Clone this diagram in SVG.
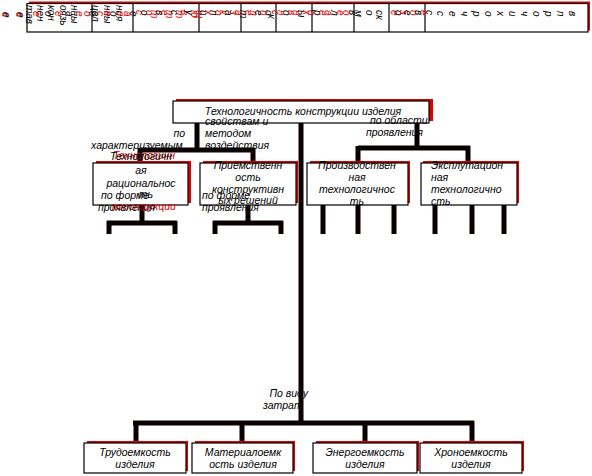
<svg xmlns="http://www.w3.org/2000/svg" width="592" height="476" viewBox="0 0 592 476">
<defs>
<style>
.t{font-family:"Liberation Sans",Arial,sans-serif;font-style:italic;font-size:10.5px;fill:#000}
.tr{font-family:"Liberation Sans",Arial,sans-serif;font-style:italic;font-size:10.5px;fill:#e00000}
.c{text-anchor:middle}
.v{font-family:"Liberation Sans",Arial,sans-serif;font-style:italic;font-size:10px;fill:#000}
.vr{font-family:"Liberation Sans",Arial,sans-serif;font-style:italic;font-size:10px;fill:#e00000}
.box{fill:#fff;stroke:#000;stroke-width:1.2}
.sh{fill:#e00000}
.ln{stroke:#0a0000;stroke-width:5;fill:none;stroke-linecap:butt}
.tl{stroke:#000;stroke-width:1.2}
</style>
</defs>
<rect width="592" height="476" fill="#fff"/>

<g id="table">
<rect x="29" y="1.5" width="561" height="29" class="sh"/>
<rect x="27" y="3.5" width="561" height="28.5" class="box"/>
<line x1="92" y1="3.5" x2="92" y2="32" class="tl"/>
<line x1="133" y1="3.5" x2="133" y2="32" class="tl"/>
<line x1="199" y1="3.5" x2="199" y2="32" class="tl"/>
<line x1="241" y1="3.5" x2="241" y2="32" class="tl"/>
<line x1="276" y1="3.5" x2="276" y2="32" class="tl"/>
<line x1="312" y1="3.5" x2="312" y2="32" class="tl"/>
<line x1="354" y1="3.5" x2="354" y2="32" class="tl"/>
<line x1="389" y1="3.5" x2="389" y2="32" class="tl"/>
<line x1="425" y1="3.5" x2="425" y2="32" class="tl"/>
<text class="v" transform="translate(26,5) rotate(90)">тав</text>
<text class="v" transform="translate(37,5) rotate(90)">нен</text>
<text class="v" transform="translate(48,5) rotate(90)">кон</text>
<text class="v" transform="translate(60,5) rotate(90)">оязь</text>
<text class="v" transform="translate(71,5) rotate(90)">нны</text>
<text class="v" transform="translate(92,5) rotate(90)">цел</text>
<text class="v" transform="translate(104,5) rotate(90)">нны</text>
<text class="v" transform="translate(116,5) rotate(90)">ния</text>
<text class="vr" transform="translate(2,12) rotate(90)">е</text>
<text class="v" transform="translate(3,12) rotate(90)">е</text>
<text class="vr" transform="translate(16,12) rotate(90)">е</text>
<text class="v" transform="translate(17,12) rotate(90)">е</text>
<g>
<text class="vr" transform="translate(33,11) rotate(90)">е</text>
<text class="v" transform="translate(45,11) rotate(90)">о</text>
<text class="vr" transform="translate(55,11) rotate(90)">е</text>
<text class="v" transform="translate(66,11) rotate(90)">а</text>
<text class="vr" transform="translate(76,11) rotate(90)">е</text>
<text class="vr" transform="translate(84,11) rotate(90)">о</text>
<text class="v" transform="translate(89,11) rotate(90)">е</text>
<text class="vr" transform="translate(97,11) rotate(90)">с</text>
<text class="vr" transform="translate(104,11) rotate(90)">е</text>
<text class="v" transform="translate(110,11) rotate(90)">о</text>
<text class="vr" transform="translate(117,11) rotate(90)">е</text>
<text class="vr" transform="translate(124,11) rotate(90)">а</text>
<text class="v" transform="translate(130,11) rotate(90)">е</text>
</g>
<g>
<text class="vr" transform="translate(136,10) rotate(90)">с</text>
<text class="v" transform="translate(141,10) rotate(90)">о</text>
<text class="vr" transform="translate(146,10) rotate(90)">о</text>
<text class="vr" transform="translate(151,10) rotate(90)">т</text>
<text class="v" transform="translate(156,10) rotate(90)">в</text>
<text class="vr" transform="translate(161,10) rotate(90)">е</text>
<text class="vr" transform="translate(166,10) rotate(90)">т</text>
<text class="v" transform="translate(171,10) rotate(90)">с</text>
<text class="vr" transform="translate(176,10) rotate(90)">т</text>
<text class="vr" transform="translate(181,10) rotate(90)">в</text>
<text class="v" transform="translate(186,10) rotate(90)">у</text>
<text class="vr" transform="translate(191,10) rotate(90)">ю</text>
<text class="vr" transform="translate(196,10) rotate(90)">щ</text>
<text class="v" transform="translate(200,10) rotate(90)">и</text>
<text class="vr" transform="translate(205,10) rotate(90)">х</text>
<text class="v" transform="translate(210,10) rotate(90)">п</text>
<text class="vr" transform="translate(215,10) rotate(90)">о</text>
<text class="vr" transform="translate(220,10) rotate(90)">к</text>
<text class="v" transform="translate(225,10) rotate(90)">а</text>
<text class="vr" transform="translate(230,10) rotate(90)">з</text>
<text class="vr" transform="translate(235,10) rotate(90)">а</text>
<text class="v" transform="translate(240,10) rotate(90)">т</text>
<text class="vr" transform="translate(245,10) rotate(90)">е</text>
<text class="vr" transform="translate(250,10) rotate(90)">л</text>
<text class="v" transform="translate(255,10) rotate(90)">е</text>
<text class="vr" transform="translate(260,10) rotate(90)">й</text>
<text class="v" transform="translate(265,10) rotate(90)">о</text>
<text class="v" transform="translate(268,14) rotate(90)">к</text>
<text class="vr" transform="translate(272,10) rotate(90)">с</text>
<text class="vr" transform="translate(278,10) rotate(90)">н</text>
<text class="v" transform="translate(283,10) rotate(90)">о</text>
<text class="vr" transform="translate(288,10) rotate(90)">в</text>
<text class="vr" transform="translate(293,10) rotate(90)">н</text>
<text class="v" transform="translate(298,10) rotate(90)">ы</text>
<text class="vr" transform="translate(303,10) rotate(90)">х</text>
<text class="vr" transform="translate(308,10) rotate(90)">о</text>
<text class="v" transform="translate(314,10) rotate(90)">р</text>
<text class="vr" transform="translate(319,10) rotate(90)">е</text>
<text class="vr" transform="translate(325,10) rotate(90)">а</text>
<text class="v" transform="translate(331,10) rotate(90)">л</text>
<text class="vr" transform="translate(337,10) rotate(90)">е</text>
<text class="vr" transform="translate(343,10) rotate(90)">о</text>
<text class="v" transform="translate(349,10) rotate(90)">в</text>
<text class="v" transform="translate(355,10) rotate(90)">м</text>
<text class="v" transform="translate(366,10) rotate(90)">о</text>
<text class="v" transform="translate(376,10) rotate(90)">ск</text>
<text class="vr" transform="translate(391,10) rotate(90)">е</text>
<text class="v" transform="translate(395,10) rotate(90)">о</text>
<text class="vr" transform="translate(400,10) rotate(90)">з</text>
<text class="v" transform="translate(404,10) rotate(90)">е</text>
<text class="vr" transform="translate(410,10) rotate(90)">о</text>
<text class="v" transform="translate(415,10) rotate(90)">в</text>
<text class="vr" transform="translate(420,10) rotate(90)">е</text>
<text class="v" transform="translate(426,10) rotate(90)">с</text>
</g>
<g>
<text class="v" transform="translate(569,11) rotate(90)">в</text>
<text class="v" transform="translate(557,11) rotate(90)">п</text>
<text class="v" transform="translate(545,11) rotate(90)">р</text>
<text class="v" transform="translate(533,11) rotate(90)">о</text>
<text class="v" transform="translate(521,11) rotate(90)">ч</text>
<text class="v" transform="translate(509,11) rotate(90)">и</text>
<text class="v" transform="translate(497,11) rotate(90)">х</text>
<text class="v" transform="translate(485,11) rotate(90)">о</text>
<text class="v" transform="translate(473,11) rotate(90)">р</text>
<text class="v" transform="translate(461,11) rotate(90)">ч</text>
<text class="v" transform="translate(449,11) rotate(90)">е</text>
<text class="v" transform="translate(437,11) rotate(90)">с</text>
</g>
</g>

<g id="connectors">
<path class="ln" d="M197,123 V150 M140,150 H255 M140,148 V163 M253,148 V163"/>
<path class="ln" d="M417,123 V148 M358,148 H470 M358,146 V163 M468,146 V163"/>
<path class="ln" d="M301,123 V423"/>
<path class="ln" d="M142,205 V223 M107,223 H177 M109,221 V234 M175,221 V234"/>
<path class="ln" d="M248,205 V223 M213,223 H283 M215,221 V234 M281,221 V234"/>
<path class="ln" d="M323,205 V234 M358,205 V234 M394,205 V234"/>
<path class="ln" d="M435,205 V234 M472,205 V234 M504,205 V234"/>
<path class="ln" d="M133,423 H474 M136,421 V443 M242,421 V443 M365,421 V443 M472,421 V443"/>
</g>

<g id="n_top">
<rect x="176" y="99" width="257" height="22" class="sh"/>
<rect x="173" y="101" width="256" height="22" class="box"/>
<text class="t c" x="303" y="115">Технологичность конструкции изделия</text>
</g>

<g id="n_rat">
<rect x="96" y="161" width="95" height="42" class="sh"/>
<rect x="93" y="163" width="95" height="42" class="box"/>
<text class="tr c" x="144" y="159">Технологичн</text>
<text class="t c" x="141" y="160">Технологичн</text>
<text class="t c" x="141" y="174">ая</text>
<text class="t c" x="141" y="187">рациональнос</text>
<text class="t c" x="146" y="198">ть</text>
<text class="tr c" x="144" y="210">конструкции</text>
</g>

<g id="n_pri">
<rect x="203" y="161" width="95" height="42" class="sh"/>
<rect x="200" y="163" width="96" height="42" class="box"/>
<text class="t c" x="248" y="169">Приемственн</text>
<text class="t c" x="248" y="181">ость</text>
<text class="t c" x="248" y="193">конструктивн</text>
<text class="t c" x="248" y="204">ых решений</text>
</g>

<g id="n_prod">
<rect x="310" y="161" width="100" height="42" class="sh"/>
<rect x="307" y="163" width="101" height="42" class="box"/>
<text class="t c" x="357" y="169">Производствен</text>
<text class="t c" x="357" y="181">ная</text>
<text class="t c" x="357" y="193">технологичнос</text>
<text class="t c" x="357" y="205">ть</text>
</g>

<g id="n_expl">
<rect x="423" y="161" width="96" height="42" class="sh"/>
<rect x="421" y="163" width="96" height="42" class="box"/>
<text class="t" x="431" y="169">Эксплутацион</text>
<text class="t" x="431" y="181">ная</text>
<text class="t" x="431" y="193">технологично</text>
<text class="t" x="431" y="205">сть</text>
</g>

<g id="n_trud">
<rect x="87" y="441" width="101" height="30" class="sh"/>
<rect x="84" y="443" width="102" height="30" class="box"/>
<text class="t c" x="135" y="456">Трудоемкость</text>
<text class="t c" x="135" y="468">изделия</text>
</g>
<g id="n_mat">
<rect x="195" y="441" width="100" height="30" class="sh"/>
<rect x="192" y="443" width="101" height="30" class="box"/>
<text class="t c" x="243" y="456">Материалоемк</text>
<text class="t c" x="243" y="468">ость изделия</text>
</g>
<g id="n_en">
<rect x="316" y="441" width="103" height="30" class="sh"/>
<rect x="313" y="443" width="104" height="30" class="box"/>
<text class="t c" x="365" y="456">Энергоемкость</text>
<text class="t c" x="365" y="468">изделия</text>
</g>
<g id="n_hr">
<rect x="423" y="441" width="101" height="30" class="sh"/>
<rect x="420" y="443" width="102" height="30" class="box"/>
<text class="t c" x="471" y="456">Хроноемкость</text>
<text class="t c" x="471" y="468">изделия</text>
</g>

<g id="labels">
<text class="t" x="185" y="137" text-anchor="end">по</text>
<text class="t" x="91" y="149">характеризуемым</text>
<text class="t" x="205" y="125">свойствам и</text>
<text class="t" x="205" y="137">методом</text>
<text class="t" x="205" y="149">воздействия</text>
<text class="t" x="370" y="124">по области</text>
<text class="t" x="366" y="136">проявления</text>
<text class="t" x="101" y="199">по форме</text>
<text class="t" x="98" y="211">проявления</text>
<text class="t" x="202" y="199">по форме</text>
<text class="t" x="202" y="211">проявления</text>
<text class="t" x="308" y="397" text-anchor="end">По виду</text>
<text class="t" x="263" y="409">затрат</text>
</g>
</svg>
